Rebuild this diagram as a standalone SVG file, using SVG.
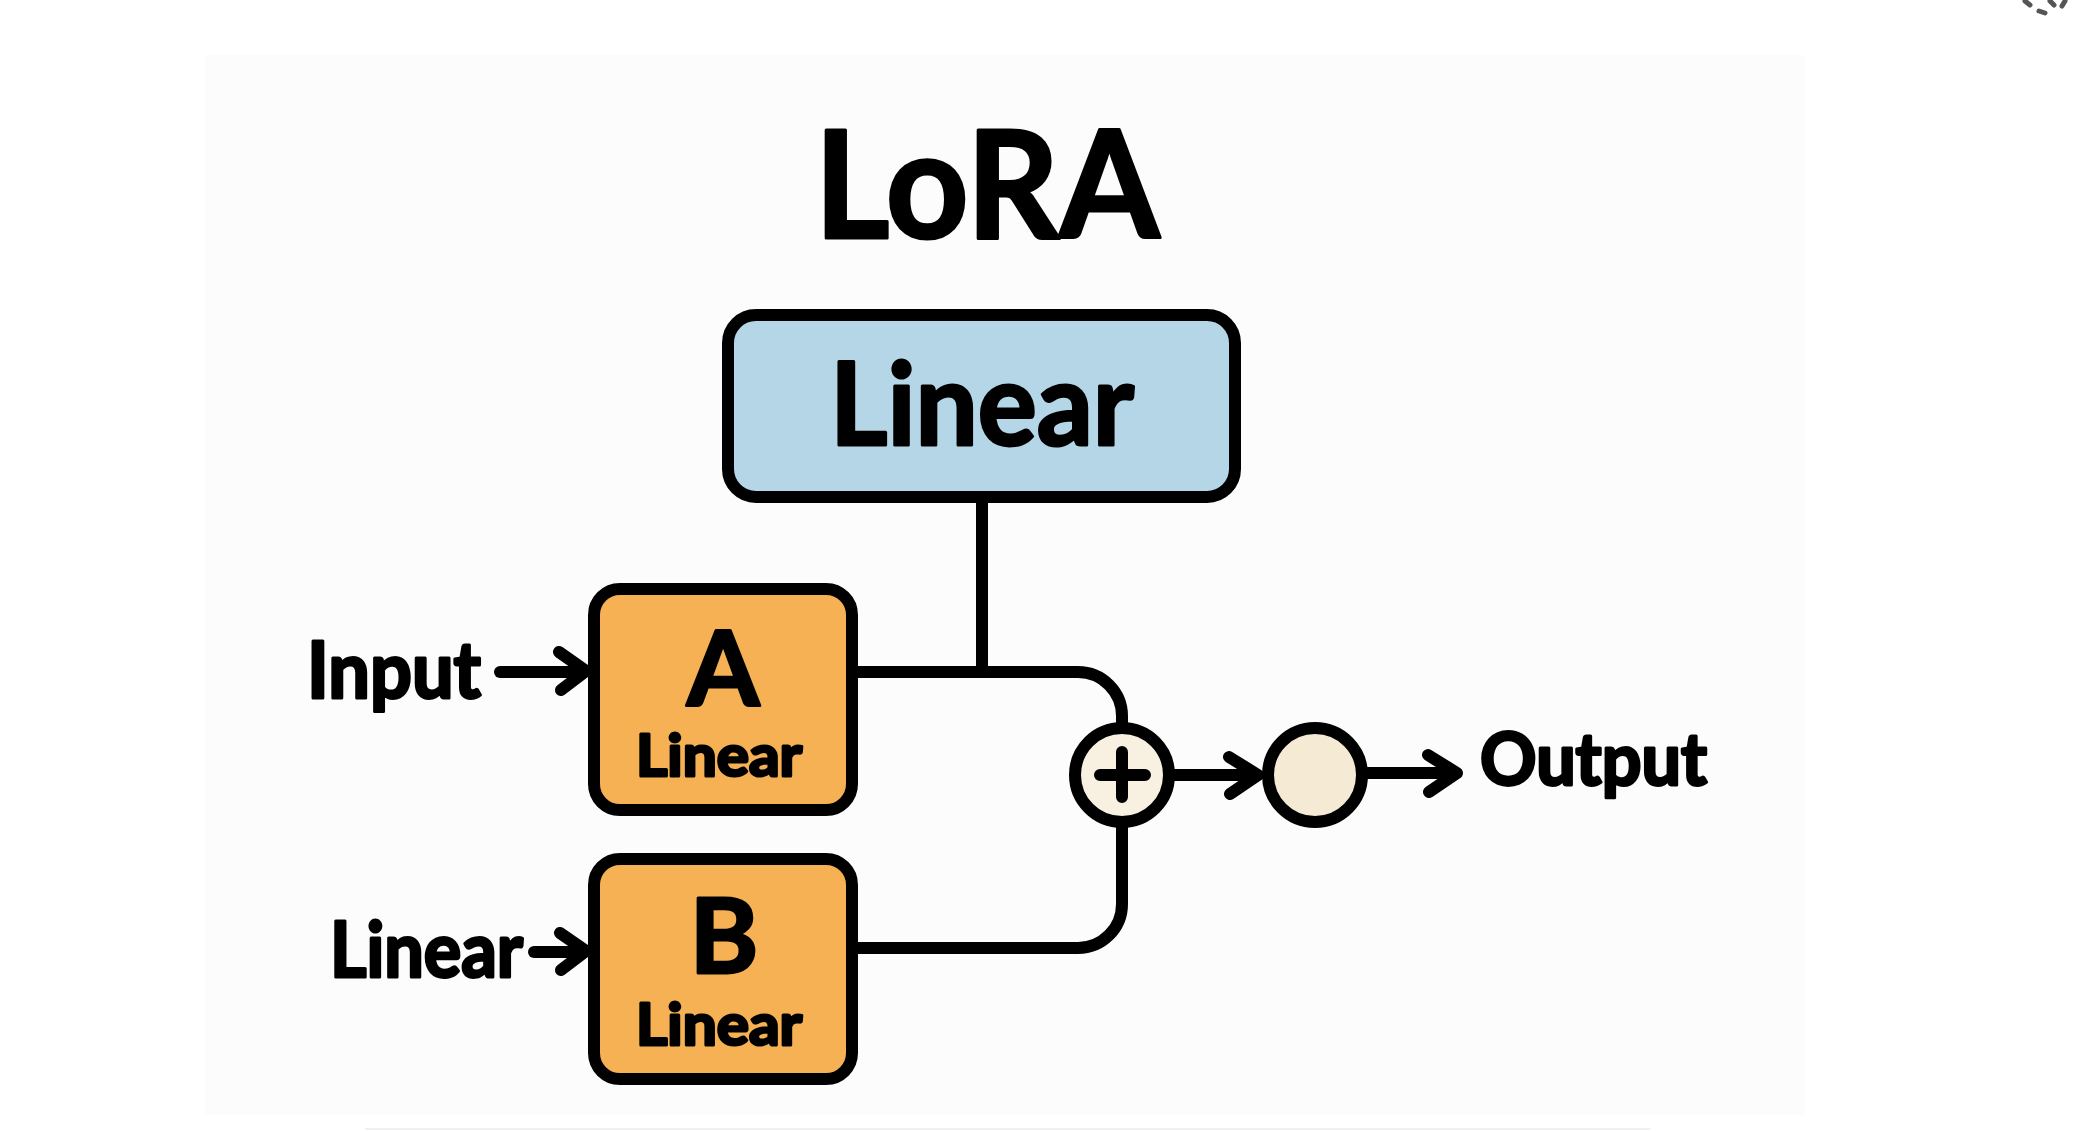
<svg xmlns="http://www.w3.org/2000/svg" width="2075" height="1132" viewBox="0 0 2075 1132">
<defs>
<style>
.bg{fill:#ffffff}
.panel{fill:#fcfcfc}
.box{stroke:#000;stroke-width:12}
.blue{fill:#b5d6e6}
.orange{fill:#f5b153}
.cream1{fill:#f8f1e2}
.cream2{fill:#f5ead3}
.line{fill:none;stroke:#000;stroke-width:12;stroke-linecap:round;stroke-linejoin:round}
.t{font-family:Lato,"Open Sans","DejaVu Sans",sans-serif;font-weight:700;fill:#000;stroke:#000;stroke-width:3;stroke-linejoin:round}
.spin{stroke:#555;stroke-width:5;stroke-linecap:round}
</style>
</defs>
<rect class="bg" x="0" y="0" width="2075" height="1132"/>
<rect class="panel" x="205" y="55" width="1600" height="1060"/>
<line x1="365" y1="1129" x2="1650" y2="1129" stroke="#f0f0f0" stroke-width="2"/>
<g id="spinner">
<line class="spin" x1="2025" y1="1" x2="2030" y2="5"/>
<line class="spin" x1="2039" y1="11" x2="2045" y2="13"/>
<line class="spin" x1="2050" y1="1" x2="2054" y2="5"/>
<line class="spin" x1="2062" y1="6" x2="2065" y2="1"/>
</g>
<g id="title">
<text class="t" x="987" y="238" font-size="150" text-anchor="middle" textLength="345" lengthAdjust="spacingAndGlyphs" stroke-width="5">LoRA</text>
</g>
<g id="connectors">
<path class="line" d="M982 503 V672"/>
<path class="line" d="M857 672 H1078 A44 44 0 0 1 1122 716 V728"/>
<path class="line" d="M857 948 H1078 A44 44 0 0 0 1122 904 V822"/>
<path class="line" d="M1169 775 H1256"/>
<path class="line" d="M1229 757 L1258 775 L1230 794"/>
<path class="line" d="M1367 773 H1455"/>
<path class="line" d="M1428 755 L1457 773 L1429 792"/>
<path class="line" d="M500 672 H584"/>
<path class="line" d="M559 652 L586 671 L561 690"/>
<path class="line" d="M534 952 H584"/>
<path class="line" d="M560 933 L586 951 L561 970"/>
</g>
<g id="linear-main">
<rect class="box blue" x="728" y="315" width="507" height="182" rx="28"/>
<text class="t" x="982" y="445" font-size="115" text-anchor="middle" textLength="304" lengthAdjust="spacingAndGlyphs">Linear</text>
</g>
<g id="node-a">
<rect class="box orange" x="594" y="589" width="258" height="221" rx="26"/>
<text class="t" x="723" y="705" font-size="104" text-anchor="middle">A</text>
<text class="t" x="719" y="776" font-size="58" text-anchor="middle" textLength="166" lengthAdjust="spacingAndGlyphs">Linear</text>
</g>
<g id="node-b">
<rect class="box orange" x="594" y="859" width="258" height="220" rx="26"/>
<text class="t" x="724" y="973" font-size="104" text-anchor="middle">B</text>
<text class="t" x="719" y="1045" font-size="58" text-anchor="middle" textLength="166" lengthAdjust="spacingAndGlyphs">Linear</text>
</g>
<g id="plus">
<circle class="box cream1" cx="1122" cy="775" r="47"/>
<path class="line" d="M1100 775 H1145 M1122 752 V797" stroke-width="13"/>
</g>
<g id="circle-out">
<circle class="box cream2" cx="1315" cy="775" r="47"/>
</g>
<g id="label-input">
<text class="t" x="307" y="698" font-size="78" textLength="174" lengthAdjust="spacingAndGlyphs">Input</text>
</g>
<g id="label-linear">
<text class="t" x="330" y="977" font-size="76" textLength="193" lengthAdjust="spacingAndGlyphs">Linear</text>
</g>
<g id="label-output">
<text class="t" x="1480" y="785" font-size="72" textLength="227" lengthAdjust="spacingAndGlyphs">Output</text>
</g>
</svg>
